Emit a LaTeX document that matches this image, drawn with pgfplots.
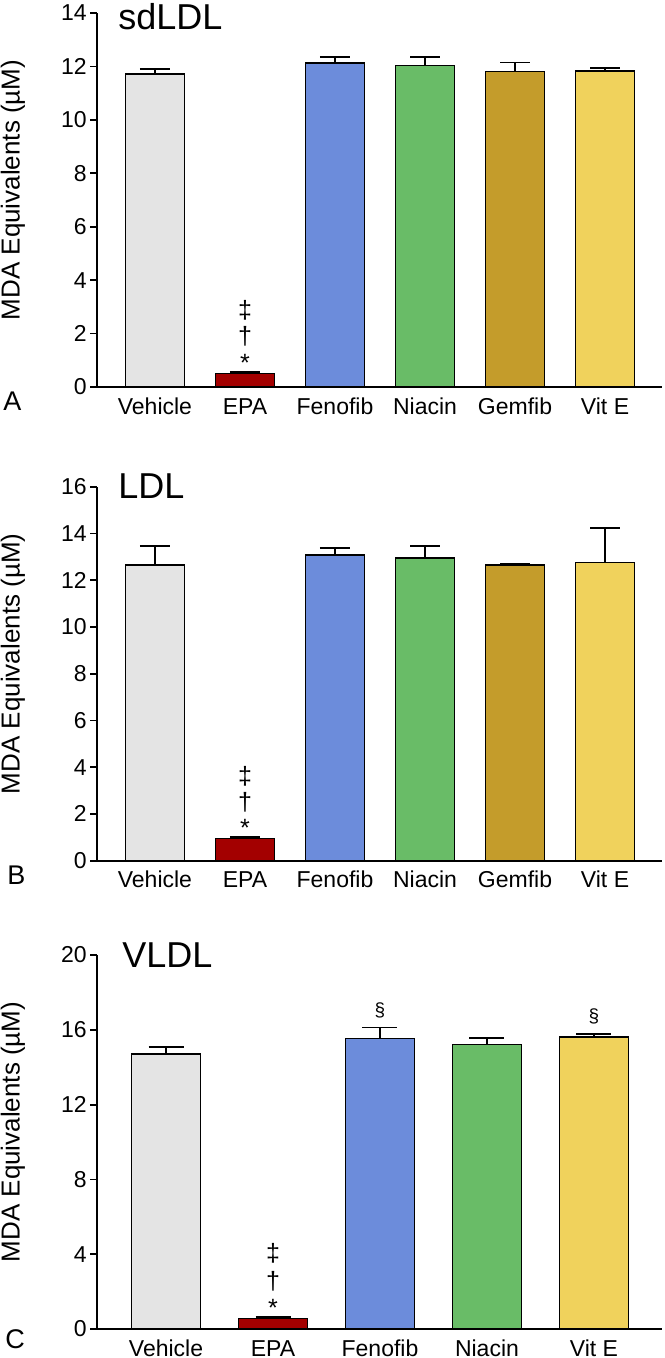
\documentclass[border=0pt]{standalone}
\usepackage{pgfplots}
\pgfplotsset{compat=1.18}
\usepackage{fontspec}
\setmainfont{Liberation Sans}
\definecolor{veh}{HTML}{E4E4E4}
\definecolor{epa}{HTML}{A30000}
\definecolor{feno}{HTML}{6C8CDB}
\definecolor{nia}{HTML}{69BC67}
\definecolor{gem}{HTML}{C49C2B}
\definecolor{vite}{HTML}{F0D25C}
\pgfplotsset{
  panel/.style={
    scale only axis, width=282.5pt, height=187pt,
    axis x line=bottom, axis y line=left,
    axis line style={line width=0.9pt, black, -},
    ymin=0, clip=false,
    tick align=outside, major tick length=3.5pt,
    tick style={line width=0.9pt, black},
    x tick style={draw=none},
    xtick={0,...,5},
    /pgf/number format/assume math mode=true,
    tick label style={font=\fontsize{11.5}{13}\selectfont},
    yticklabel style={inner xsep=1.5pt},
    xticklabel style={anchor=base, yshift=-10pt},
    ylabel={MDA Equivalents (µM)},
    every axis y label/.style={at={(axis description cs:0,0.5)}, xshift=-42pt, yshift=5pt, rotate=90, anchor=center, font=\fontsize{13}{15}\selectfont},
  },
  mybar/.style={ybar, bar shift=0pt, draw=black, line width=0.8pt,
    error bars/y dir=plus, error bars/y explicit,
    error bars/error bar style={line width=0.85pt, black},
    error bars/error mark options={rotate=90, line width=0.85pt, black, mark size=#1}},
  mybar/.default=7.5pt,
}
\tikzset{
  ann/.style={anchor=base, font=\fontsize{12.5}{14}\selectfont, inner sep=0pt},
  sec/.style={anchor=base, font=\fontsize{9.5}{11}\selectfont, inner sep=0pt},
  ttl/.style={anchor=base west, font=\fontsize{18}{20}\selectfont, inner sep=0pt},
  plab/.style={anchor=base west, font=\fontsize{13.5}{15}\selectfont, inner sep=0pt},
}
\begin{document}
\begin{tikzpicture}
\useasboundingbox (0pt,0pt) rectangle (332pt,-679pt);
% Panel A
\begin{axis}[panel, at={(48.5pt,-193.5pt)}, anchor=south west,
  xmin=-0.644, xmax=5.633, ymax=14, ytick={0,2,...,14},
  xticklabels={Vehicle,EPA,Fenofib,Niacin,Gemfib,Vit E}]
\addplot[fill=veh, bar width=0.656, mybar] coordinates {(0,11.72) +- (0,0.18)};
\addplot[fill=epa, bar width=0.656, mybar] coordinates {(1,0.50) +- (0,0.06)};
\addplot[fill=feno, bar width=0.656, mybar] coordinates {(2,12.12) +- (0,0.23)};
\addplot[fill=nia, bar width=0.656, mybar] coordinates {(3,12.04) +- (0,0.31)};
\addplot[fill=gem, bar width=0.656, mybar] coordinates {(4,11.81) +- (0,0.34)};
\addplot[fill=vite, bar width=0.656, mybar] coordinates {(5,11.84) +- (0,0.10)};
\node[ann, yshift=1.3pt] at (axis cs:1,0.50) {*};
\node[ann, yshift=14.5pt] at (axis cs:1,0.50) {†};
\node[ann, yshift=27.5pt] at (axis cs:1,0.50) {‡};
\node[ttl, xshift=10.5pt, yshift=-8.5pt] at (rel axis cs:0,1) {sdLDL};
\node[plab, xshift=-47pt, yshift=-11.5pt] at (rel axis cs:0,0) {A};
\end{axis}
% Panel B
\begin{axis}[panel, at={(48.5pt,-430.35pt)}, anchor=south west,
  xmin=-0.644, xmax=5.633, ymax=16, ytick={0,2,...,16},
  xticklabels={Vehicle,EPA,Fenofib,Niacin,Gemfib,Vit E}]
\addplot[fill=veh, bar width=0.656, mybar] coordinates {(0,12.65) +- (0,0.80)};
\addplot[fill=epa, bar width=0.656, mybar] coordinates {(1,0.95) +- (0,0.07)};
\addplot[fill=feno, bar width=0.656, mybar] coordinates {(2,13.07) +- (0,0.31)};
\addplot[fill=nia, bar width=0.656, mybar] coordinates {(3,12.94) +- (0,0.51)};
\addplot[fill=gem, bar width=0.656, mybar] coordinates {(4,12.65) +- (0,0.05)};
\addplot[fill=vite, bar width=0.656, mybar] coordinates {(5,12.75) +- (0,1.48)};
\node[ann, yshift=1pt] at (axis cs:1,0.95) {*};
\node[ann, yshift=14.2pt] at (axis cs:1,0.95) {†};
\node[ann, yshift=27pt] at (axis cs:1,0.95) {‡};
\node[ttl, xshift=10.5pt, yshift=-6pt] at (rel axis cs:0,1) {LDL};
\node[plab, xshift=-45pt, yshift=-12pt] at (rel axis cs:0,0) {B};
\end{axis}
% Panel C
\begin{axis}[panel, at={(48.5pt,-664.5pt)}, anchor=south west,
  xmin=-0.645, xmax=4.636, ymax=20, ytick={0,4,...,20},
  xtick={0,...,4},
  xticklabels={Vehicle,EPA,Fenofib,Niacin,Vit E}]
\addplot[fill=veh, bar width=0.645, mybar=8.75pt] coordinates {(0,14.71) +- (0,0.37)};
\addplot[fill=epa, bar width=0.645, mybar=8.75pt] coordinates {(1,0.57) +- (0,0.09)};
\addplot[fill=feno, bar width=0.645, mybar=8.75pt] coordinates {(2,15.54) +- (0,0.59)};
\addplot[fill=nia, bar width=0.645, mybar=8.75pt] coordinates {(3,15.22) +- (0,0.36)};
\addplot[fill=vite, bar width=0.645, mybar=8.75pt] coordinates {(4,15.61) +- (0,0.17)};
\node[ann, yshift=0.8pt] at (axis cs:1,0.57) {*};
\node[ann, yshift=14.5pt] at (axis cs:1,0.57) {†};
\node[ann, yshift=28.3pt] at (axis cs:1,0.57) {‡};
\node[sec, yshift=5.5pt] at (axis cs:2,16.13) {§};
\node[sec, yshift=5.5pt] at (axis cs:4,15.78) {§};
\node[ttl, xshift=12.5pt, yshift=-6pt] at (rel axis cs:0,1) {VLDL};
\node[plab, xshift=-46pt, yshift=-9.5pt] at (rel axis cs:0,0) {C};
\end{axis}
\end{tikzpicture}
\end{document}
